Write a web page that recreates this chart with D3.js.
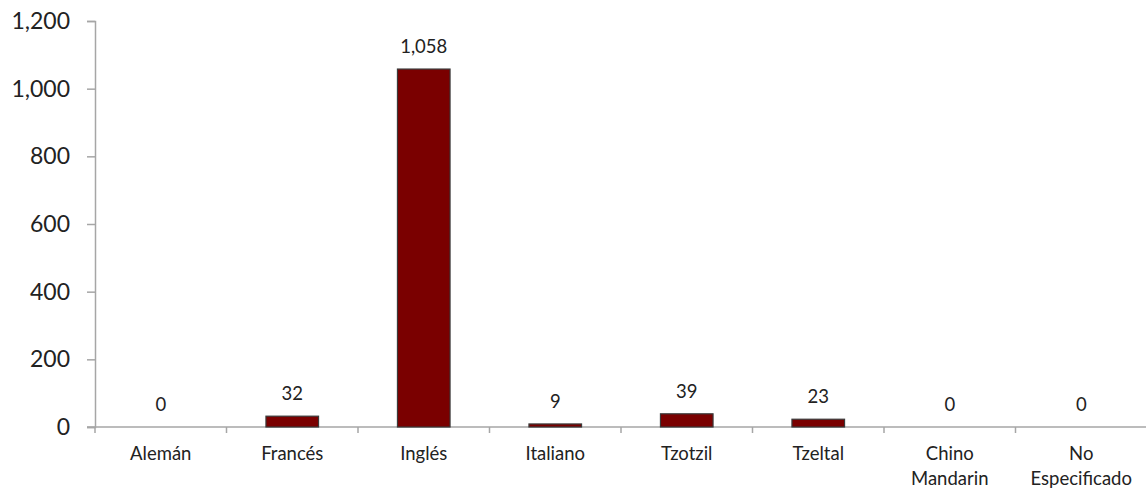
<!DOCTYPE html>
<html>
<head>
<meta charset="utf-8">
<script src="https://cdn.jsdelivr.net/npm/d3@7"></script>
<style>
  html, body { margin: 0; padding: 0; background: #fff; }
  svg { display: block; font-family: Lato, "Open Sans", sans-serif; }
</style>
</head>
<body>
<svg id="chart" width="1146" height="489"></svg>
<script>
const categories = ["Alemán", "Francés", "Inglés", "Italiano", "Tzotzil", "Tzeltal", "Chino Mandarin", "No Especificado"];
const values = [0, 32, 1058, 9, 39, 23, 0, 0];
const yTicks = [0, 200, 400, 600, 800, 1000, 1200];

(function () {
const svg = d3.select("#chart");
const mLeft = 95, mRight = 1147, mTop = 21, mBottom = 427;

const x = d3.scaleBand().domain(categories).range([mLeft, mRight]).paddingInner(0.6).paddingOuter(0.3);
const xTickScale = d3.scaleLinear().domain([0, categories.length]).range([mLeft, mRight]);
const y = d3.scaleLinear().domain([0, 1200]).range([mBottom, mTop]);
const fmt = d3.format(",");
const axisColor = "#a6a6a6";
const textColor = "#222";

// Y axis
const yAxis = svg.append("g").attr("transform", `translate(${mLeft},0)`)
  .call(d3.axisLeft(y).tickValues(yTicks).tickFormat(fmt).tickSize(8).tickPadding(17));
yAxis.select(".domain").attr("stroke", axisColor).attr("stroke-width", 1.5);
yAxis.selectAll(".tick line").attr("stroke", axisColor).attr("stroke-width", 1.5);
yAxis.selectAll(".tick text").attr("fill", textColor).style("font-size", "23px").style("font-family", "Lato, sans-serif");

// X axis line
svg.append("line").attr("x1", mLeft - 8).attr("x2", mRight).attr("y1", mBottom).attr("y2", mBottom)
  .attr("stroke", axisColor).attr("stroke-width", 1.5);
// X ticks at band boundaries
svg.append("g").selectAll("line").data(d3.range(categories.length + 1)).join("line")
  .attr("x1", d => xTickScale(d)).attr("x2", d => xTickScale(d))
  .attr("y1", mBottom).attr("y2", mBottom + 6)
  .attr("stroke", axisColor).attr("stroke-width", 1.5);

// Bars
svg.append("g").selectAll("rect").data(categories).join("rect")
  .attr("x", d => x(d))
  .attr("width", x.bandwidth())
  .attr("y", (d, i) => y(values[i]))
  .attr("height", (d, i) => Math.max(0, y(0) - y(values[i])))
  .attr("fill", "#7a0000")
  .attr("stroke", "#3a3a3a")
  .attr("stroke-width", 1.2)
  .attr("display", (d, i) => values[i] > 0 ? null : "none");

// Data labels
svg.append("g").selectAll("text").data(categories).join("text")
  .attr("x", d => x(d) + x.bandwidth() / 2)
  .attr("y", (d, i) => y(values[i]) - 16)
  .attr("text-anchor", "middle")
  .attr("fill", textColor)
  .style("font-size", "18.5px")
  .text((d, i) => fmt(values[i]));

// Category labels
const catG = svg.append("g");
categories.forEach(c => {
  const lines = c.includes(" ") ? c.split(" ") : [c];
  const t = catG.append("text")
    .attr("x", x(c) + x.bandwidth() / 2)
    .attr("y", 460)
    .attr("text-anchor", "middle")
    .attr("fill", textColor)
    .style("font-size", "18.5px");
  lines.forEach((ln, k) => {
    t.append("tspan").attr("x", x(c) + x.bandwidth() / 2).attr("dy", k === 0 ? 0 : 25).text(ln);
  });
});
})();
</script>
</body>
</html>
